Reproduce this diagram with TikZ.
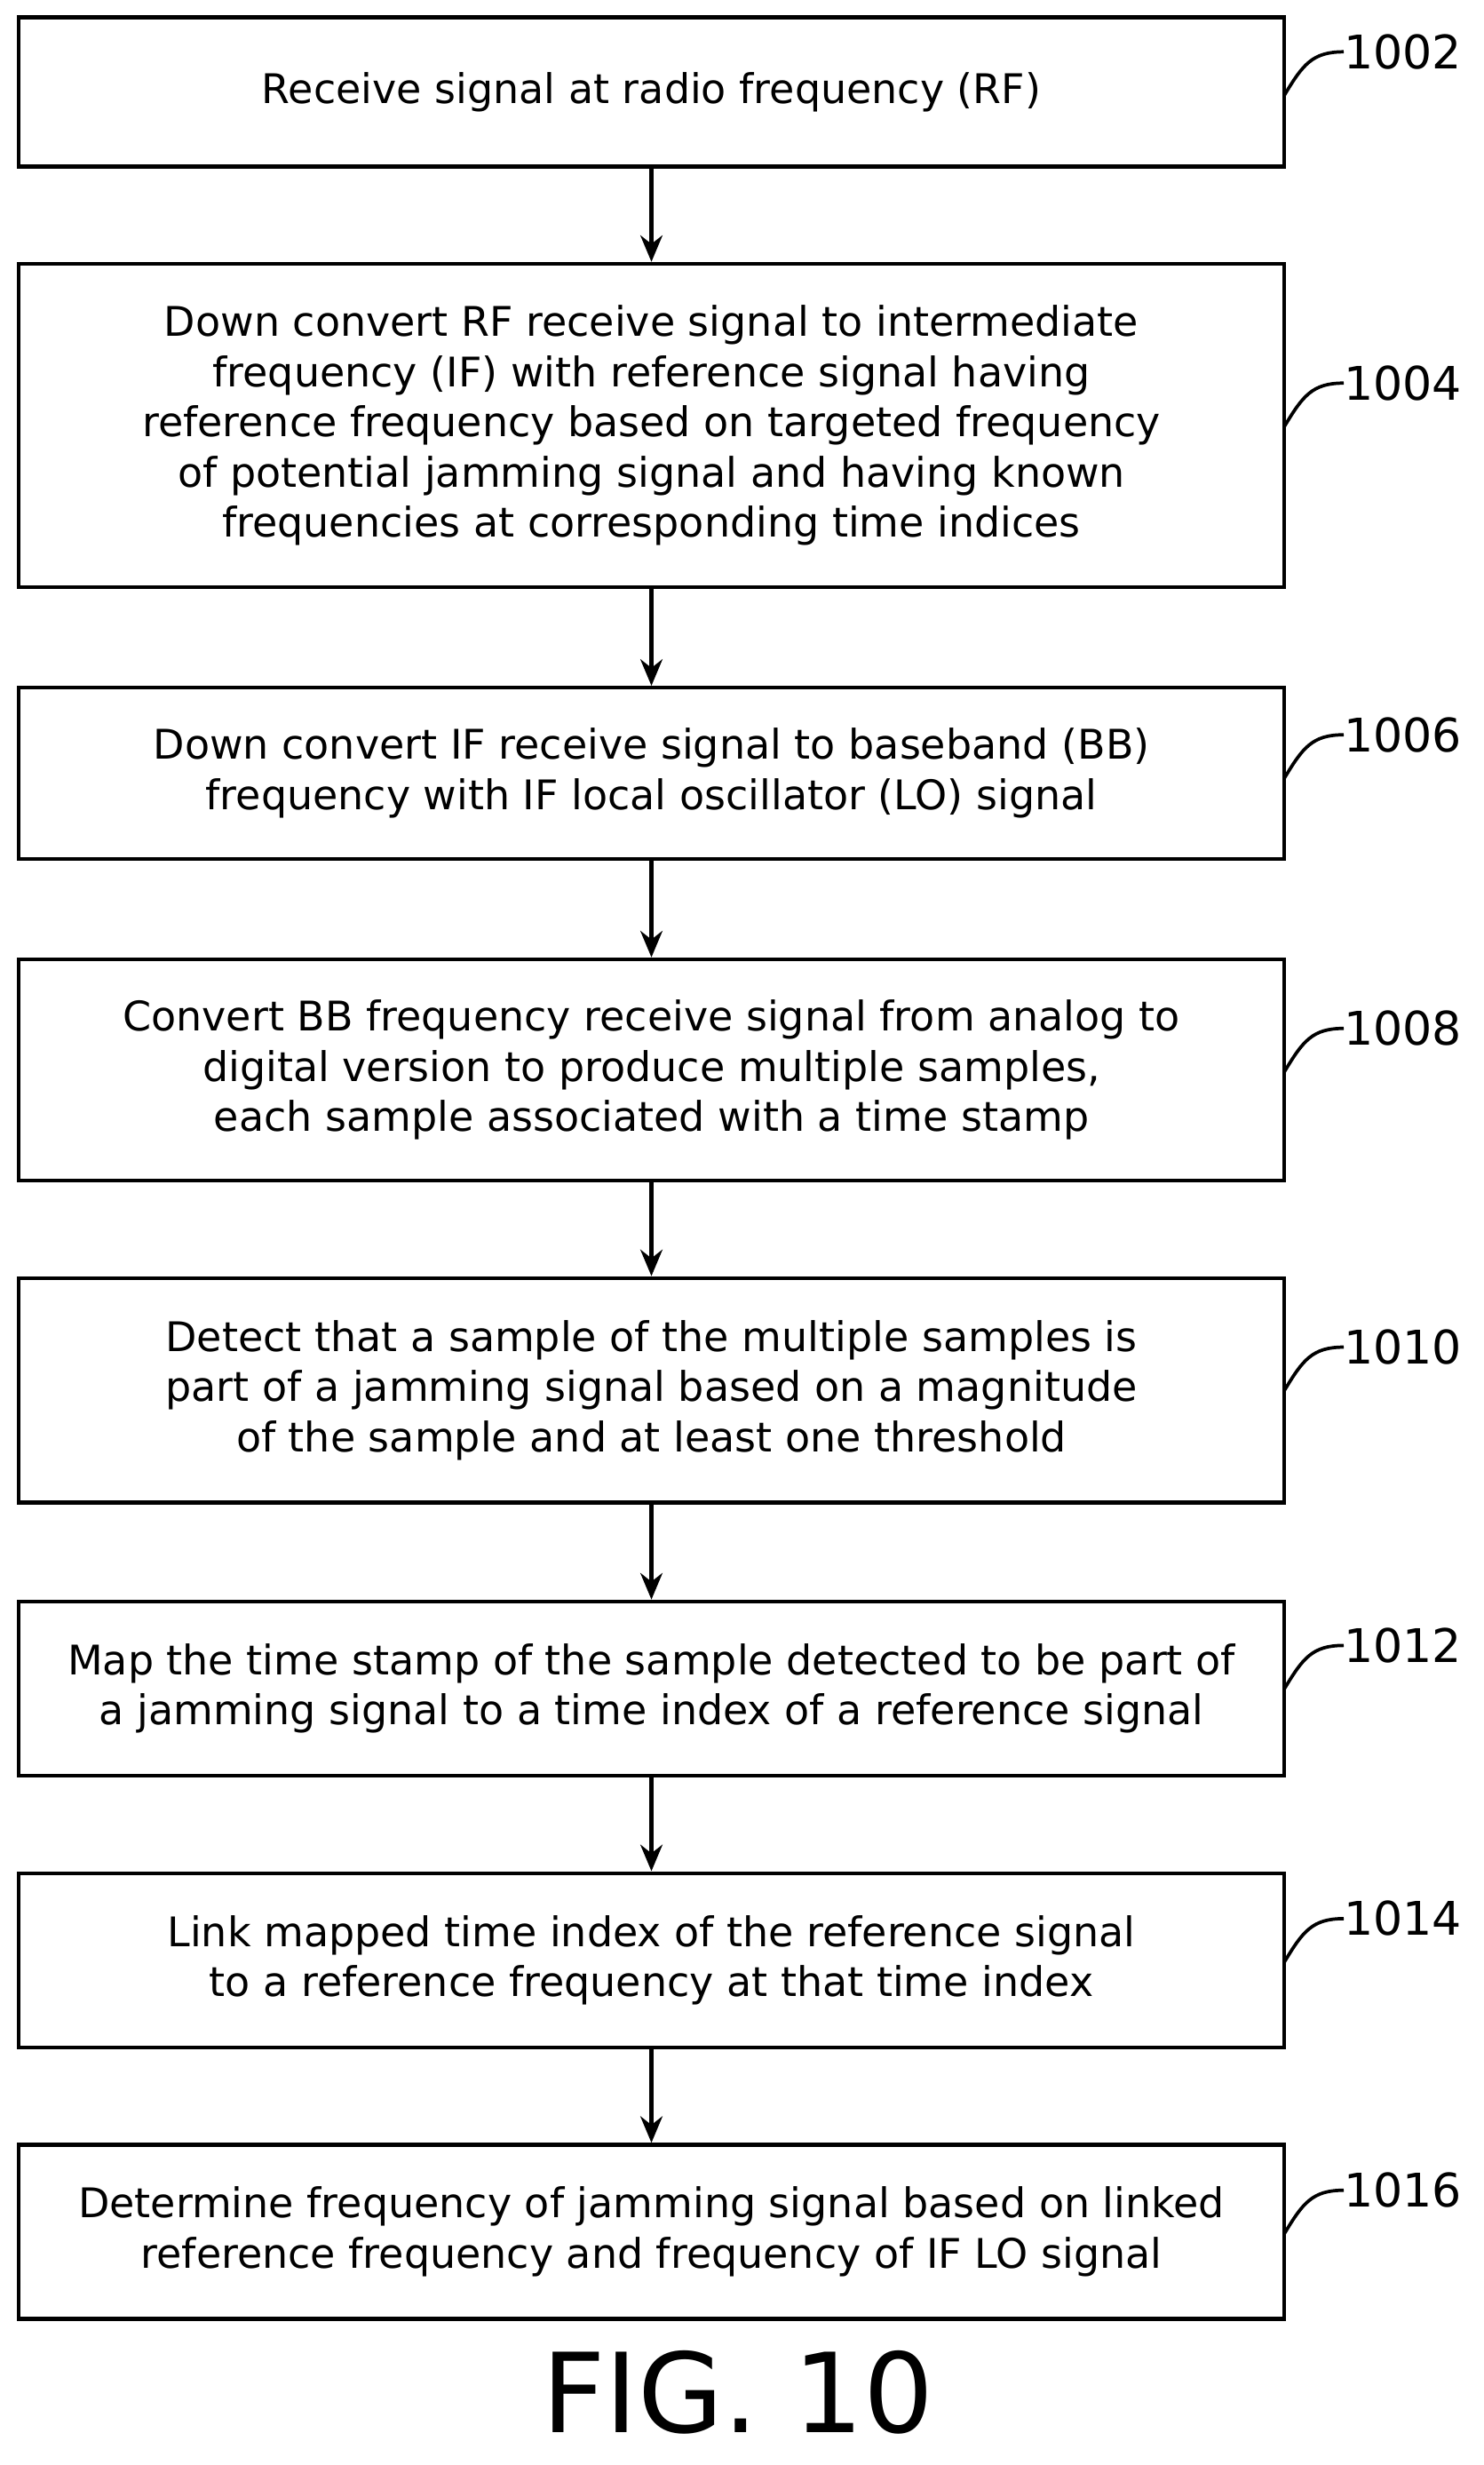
\documentclass[tikz,border=0pt]{standalone}
\usepackage{fontspec}
\setmainfont{DejaVu Sans}
\usetikzlibrary{arrows.meta}
\begin{document}
\begin{tikzpicture}[x=0.05cm,y=-0.05cm,
 box/.style={draw,line width=3.5pt,minimum width=40.3cm,align=center,inner sep=0pt,font=\fontsize{37}{45.5}\selectfont},
 arr/.style={line width=3.5pt,-{Stealth[length=24pt,width=20pt]}},
 lab/.style={anchor=west,font=\fontsize{42}{46}\selectfont,inner sep=0pt},
 lead/.style={line width=3pt}]
\useasboundingbox (0,0) rectangle (945,1570);
\newcommand\bx[4]{\node[box,minimum height=#3*0.05cm-0.1cm] (#1) at (415,#2+#3/2) {#4};}
\bx{b1}{10}{97}{Receive signal at radio frequency (RF)}
\bx{b2}{167}{208}{Down convert RF receive signal to intermediate\\frequency (IF) with reference signal having\\reference frequency based on targeted frequency\\of potential jamming signal and having known\\frequencies at corresponding time indices}
\bx{b3}{437}{111}{Down convert IF receive signal to baseband (BB)\\frequency with IF local oscillator (LO) signal}
\bx{b4}{610}{143}{Convert BB frequency receive signal from analog to\\digital version to produce multiple samples,\\each sample associated with a time stamp}
\bx{b5}{813}{145}{Detect that a sample of the multiple samples is\\part of a jamming signal based on a magnitude\\of the sample and at least one threshold}
\bx{b6}{1019}{113}{Map the time stamp of the sample detected to be part of\\a jamming signal to a time index of a reference signal}
\bx{b7}{1192}{113}{Link mapped time index of the reference signal\\to a reference frequency at that time index}
\bx{b8}{1365}{113}{Determine frequency of jamming signal based on linked\\reference frequency and frequency of IF LO signal}
\foreach \a/\b in {b1/b2,b2/b3,b3/b4,b4/b5,b5/b6,b6/b7,b7/b8} \draw[arr] (\a) -- (\b);
\newcommand\lb[3]{\coordinate (c#1) at (818,#2+28); \node[lab] (l#1) at (856,#2) {#3};
 \draw[lead] (c#1) .. controls (830,#2+8) and (836,#2) .. (l#1.west);}
\lb{1}{33}{1002}
\lb{2}{244}{1004}
\lb{3}{468}{1006}
\lb{4}{655}{1008}
\lb{5}{858}{1010}
\lb{6}{1048}{1012}
\lb{7}{1222}{1014}
\lb{8}{1395}{1016}
\node[font=\fontsize{100}{106}\selectfont] (fig) at (470,1524) {FIG. 10};
\end{tikzpicture}
\end{document}
